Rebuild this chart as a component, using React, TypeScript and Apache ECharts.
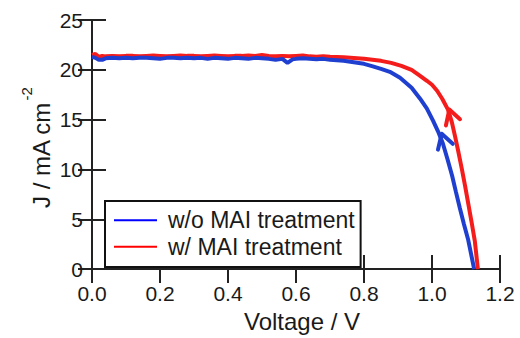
import React, { useEffect, useRef } from "react";
import * as echarts from "echarts";

const xTicks = { min: 0, max: 1.2, interval: 0.2 };
const yTicks = { min: 0, max: 25, interval: 5 };

const seriesNames = ["w/o MAI treatment", "w/ MAI treatment"];

const blueV = [0, 0.01, 0.02, 0.03, 0.04, 0.06, 0.08, 0.1, 0.12, 0.14, 0.16, 0.18, 0.2, 0.22, 0.24, 0.26, 0.28, 0.3, 0.32, 0.34, 0.36, 0.38, 0.4, 0.42, 0.44, 0.46, 0.48, 0.5, 0.52, 0.54, 0.56, 0.575, 0.59, 0.6, 0.62, 0.64, 0.66, 0.68, 0.7, 0.72, 0.74, 0.76, 0.78, 0.8, 0.826, 0.85, 0.876, 0.906, 0.94, 0.965, 0.985, 1.003, 1.018, 1.032, 1.045, 1.059, 1.07, 1.082, 1.094, 1.106, 1.115, 1.124];
const blueJ = [21.3, 21.2, 21.0, 21.0, 21.15, 21.2, 21.15, 21.2, 21.15, 21.2, 21.2, 21.15, 21.1, 21.2, 21.2, 21.15, 21.2, 21.15, 21.2, 21.1, 21.2, 21.15, 21.1, 21.2, 21.15, 21.1, 21.2, 21.15, 21.1, 21.0, 21.1, 20.7, 21.05, 21.1, 21.15, 21.1, 21.05, 21.1, 21.0, 20.95, 20.9, 20.8, 20.7, 20.6, 20.35, 20.1, 19.8, 19.2, 18.2, 17.1, 16.1, 14.9, 13.8, 12.6, 11.1, 9.4, 7.8, 6.1, 4.5, 3.0, 1.5, 0];

const redV = [0, 0.01, 0.02, 0.03, 0.04, 0.06, 0.08, 0.1, 0.12, 0.14, 0.16, 0.18, 0.2, 0.22, 0.24, 0.26, 0.28, 0.3, 0.32, 0.34, 0.36, 0.38, 0.4, 0.42, 0.44, 0.46, 0.48, 0.5, 0.52, 0.54, 0.56, 0.58, 0.6, 0.62, 0.64, 0.66, 0.68, 0.7, 0.74, 0.78, 0.8, 0.85, 0.88, 0.91, 0.94, 0.965, 0.985, 1.0, 1.015, 1.03, 1.047, 1.058, 1.068, 1.078, 1.088, 1.097, 1.106, 1.116, 1.126, 1.135];
const redJ = [21.5, 21.6, 21.3, 21.4, 21.35, 21.4, 21.35, 21.4, 21.4, 21.35, 21.4, 21.45, 21.4, 21.35, 21.4, 21.45, 21.4, 21.4, 21.35, 21.4, 21.45, 21.4, 21.35, 21.4, 21.4, 21.45, 21.4, 21.5, 21.4, 21.35, 21.4, 21.35, 21.4, 21.45, 21.35, 21.3, 21.35, 21.3, 21.25, 21.15, 21.1, 20.9, 20.7, 20.4, 20.0, 19.4, 18.9, 18.5, 17.9, 17.1, 16.0, 14.8, 13.3, 11.7, 10.0, 8.4, 6.7, 4.8, 2.8, 0];

const blueArrowV = [1.0176, 1.0285, 1.061];
const blueArrowJ = [11.99, 13.58, 12.57];
const redArrowV = [1.041, 1.0509, 1.0824];
const redArrowJ = [14.42, 16.01, 15.04];

const BLUE = "#1f3fd0";
const RED = "#f51c1c";
const TEXT = "#1a1a1a";
const FONT = "Liberation Sans";

const pairs = (xs: number[], ys: number[]) => xs.map((x, i) => [x, ys[i]]);

export default function App() {
  const ref = useRef<HTMLDivElement>(null);
  useEffect(() => {
    if (!ref.current) return;
    const chart = echarts.init(ref.current, null, { renderer: "svg" });
    const axisLine = { show: true, lineStyle: { color: "#222", width: 2 } };
    const axisTick = { show: true, inside: true, length: 14, lineStyle: { color: "#222", width: 2 } };
    chart.setOption({
      animation: false,
      backgroundColor: "#fff",
      textStyle: { fontFamily: FONT },
      grid: { left: 92, right: 20, top: 20, bottom: 62, containLabel: false },
      xAxis: [
        {
          type: "value",
          ...xTicks,
          position: "bottom",
          axisLine,
          axisTick,
          splitLine: { show: false },
          axisLabel: { fontSize: 21, color: TEXT, fontFamily: FONT, margin: 14, formatter: (v: number) => v.toFixed(1) },
          name: "Voltage / V",
          nameLocation: "middle",
          nameGap: 39,
          nameTextStyle: { fontSize: 24, color: TEXT, fontFamily: FONT, padding: [0, 0, 0, 12] },
        },
        {
          type: "value",
          ...xTicks,
          position: "top",
          axisLine,
          axisTick,
          splitLine: { show: false },
          axisLabel: { show: false },
        },
      ],
      yAxis: [
        {
          type: "value",
          ...yTicks,
          position: "left",
          axisLine,
          axisTick,
          splitLine: { show: false },
          axisLabel: { fontSize: 21, color: TEXT, fontFamily: FONT, margin: 9 },
        },
        {
          type: "value",
          ...yTicks,
          position: "right",
          axisLine,
          axisTick,
          splitLine: { show: false },
          axisLabel: { show: false },
        },
      ],
      legend: {
        data: [
          { name: seriesNames[0], itemStyle: { color: "#0000ff" } },
          { name: seriesNames[1], itemStyle: { color: "#ff0000" } },
        ],
        orient: "vertical",
        left: 105,
        top: 201,
        icon: "rect",
        itemWidth: 43,
        itemHeight: 2,
        itemGap: 0,
        padding: [6, 6, 7, 9],
        borderColor: "#111",
        borderWidth: 2,
        borderRadius: 0,
        backgroundColor: "#fff",
        selectedMode: false,
        textStyle: { fontSize: 23, color: TEXT, fontFamily: FONT, lineHeight: 26.5, padding: [0, 0, 0, 6] },
      },
      series: [
        {
          name: seriesNames[0],
          type: "line",
          data: pairs(blueV, blueJ),
          showSymbol: false,
          symbol: "none",
          color: BLUE,
          lineStyle: { width: 4, color: BLUE },
          z: 3,
        },
        {
          name: seriesNames[1],
          type: "line",
          data: pairs(redV, redJ),
          showSymbol: false,
          symbol: "none",
          color: RED,
          lineStyle: { width: 4, color: RED },
          z: 2,
        },
        {
          name: "arrow1",
          type: "line",
          data: pairs(blueArrowV, blueArrowJ),
          symbol: "none",
          lineStyle: { width: 4, color: BLUE, cap: "round", join: "round" },
          silent: true,
          z: 4,
        },
        {
          name: "arrow2",
          type: "line",
          data: pairs(redArrowV, redArrowJ),
          symbol: "none",
          lineStyle: { width: 4, color: RED, cap: "round", join: "round" },
          silent: true,
          z: 4,
        },
      ],
      graphic: [
        {
          type: "group",
          x: 41.5,
          y: 148,
          rotation: Math.PI / 2,
          children: [
            {
              type: "text",
              x: -60,
              y: 0,
              style: { text: "J / mA cm", fontSize: 24, fontFamily: FONT, fill: TEXT, textAlign: "left", textVerticalAlign: "middle" },
            },
            {
              type: "text",
              x: 47.5,
              y: -15,
              style: { text: "-2", fontSize: 15, fontFamily: FONT, fill: TEXT, textAlign: "left", textVerticalAlign: "middle" },
            },
          ],
        },
      ],
    });
    return () => chart.dispose();
  }, []);
  return <div ref={ref} style={{ width: 520, height: 338, position: "absolute", left: 0, top: 0 }} />;
}
